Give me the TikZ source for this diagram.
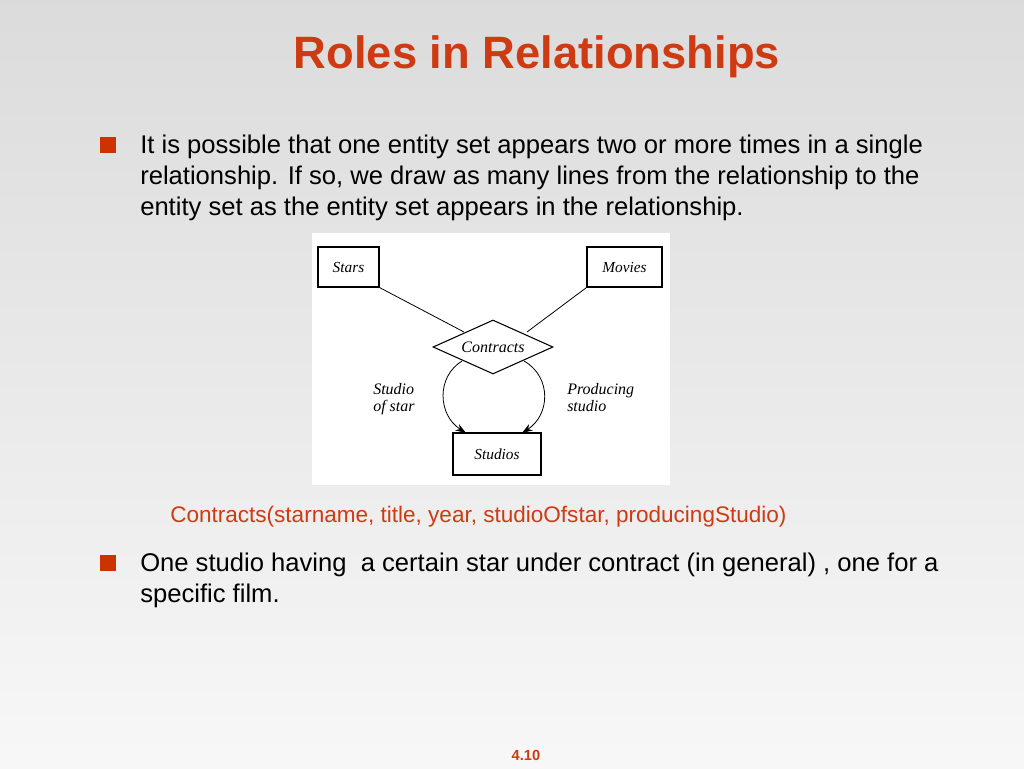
\documentclass[tikz,border=0pt]{standalone}
\usepackage{fontspec}
\setmainfont{Liberation Sans}
\newfontfamily\erfont{Liberation Serif}
\usetikzlibrary{shapes.geometric,arrows.meta}
\definecolor{slidered}{RGB}{206,58,18}
\definecolor{bulletred}{RGB}{204,51,0}
\begin{document}
\begin{tikzpicture}[x=0.75pt,y=-0.75pt,
  bodytext/.style={anchor=base west,inner sep=0pt,font=\fontsize{19.2}{23}\selectfont},
  bulletsq/.style={fill=bulletred,draw=none,minimum size=12.5pt,inner sep=0pt},
  entity/.style={draw,thick,inner sep=0pt,font=\erfont\itshape\fontsize{11.5}{13}\selectfont},
  lbl/.style={inner sep=0pt,anchor=base west,font=\erfont\itshape\fontsize{12}{13}\selectfont},
  rel/.style={line width=0.6pt},
  role/.style={line width=0.6pt,-{Stealth[length=8pt,width=5.5pt]}}]
\useasboundingbox (0,0) rectangle (1024,768);
\shade[top color=black!14,bottom color=black!3] (0,0) rectangle (1024,768);
% title
\node[anchor=base,inner sep=0pt,text=slidered,font=\bfseries\fontsize{34}{38}\selectfont] (title) at (537,68) {Roles in Relationships};
% bullet 1
\node[bulletsq] (b1) at (108,145) {};
\node[bodytext] (l1) at (140,153) {It is possible that one entity set appears two or more times in a single};
\node[bodytext] (l2) at (140,184) {relationship. If so, we draw as many lines from the relationship to the};
\node[bodytext] (l3) at (140,215) {entity set as the entity set appears in the relationship.};
% diagram panel
\fill[white] (312,233) rectangle (670,485);
\node[entity,minimum width=45.75pt,minimum height=30pt] (stars) at (348.5,267) {Stars};
\node[entity,minimum width=56.25pt,minimum height=30pt] (movies) at (624.5,267) {Movies};
\node[entity,minimum width=66pt,minimum height=31.5pt] (studios) at (497,454) {Studios};
\node[draw,thick,diamond,aspect=2.2,inner sep=0pt,minimum width=90pt,minimum height=40.5pt,font=\erfont\itshape\fontsize{12}{13}\selectfont] (contracts) at (493,347) {\raisebox{-1.5pt}{Contracts}};
\coordinate (c1) at (464,332);
\coordinate (c2) at (527,332);
\draw[rel] (stars.south east) -- (c1);
\draw[rel] (movies.south west) -- (c2);
\coordinate (c3) at (462,361);
\coordinate (c4) at (524,361);
\coordinate (s1) at (466,433);
\coordinate (s2) at (522,433);
\draw[role] (c3) .. controls (436,377) and (438,415) .. (s1);
\draw[role] (c4) .. controls (552,377) and (550,415) .. (s2);
\node[lbl] (sos1) at (373,394) {Studio};
\node[lbl] (sos2) at (373,411) {of star};
\node[lbl] (ps1) at (567,394) {Producing};
\node[lbl] (ps2) at (567,411) {studio};
% caption
\node[anchor=base west,inner sep=0pt,text=slidered,font=\fontsize{16.9}{20}\selectfont] (cap) at (170,522) {Contracts(starname, title, year, studioOfstar, producingStudio)};
% bullet 2
\node[bulletsq] (b2) at (108,563) {};
\node[bodytext] (m1) at (140,571) {One studio having\ \ a certain star under contract (in general) , one for a};
\node[bodytext] (m2) at (140,602) {specific film.};
% page number
\node[anchor=base,inner sep=0pt,text=slidered,font=\bfseries\fontsize{11}{13}\selectfont] (pg) at (526,760) {4.10};
\end{tikzpicture}
\end{document}
